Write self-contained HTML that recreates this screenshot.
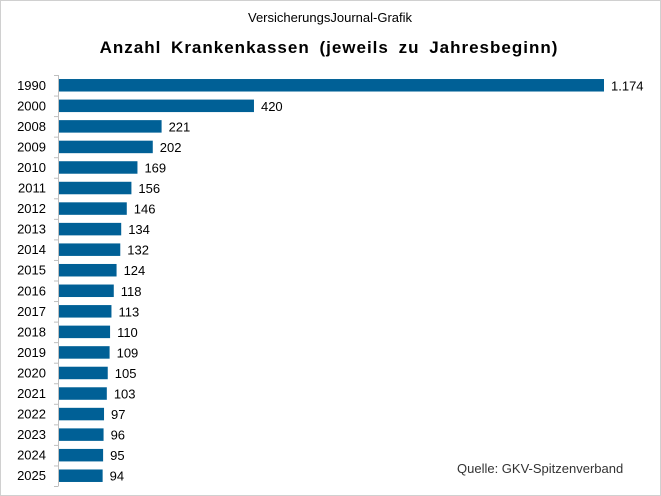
<!DOCTYPE html>
<html><head><meta charset="utf-8"><style>
body{margin:0;background:#fff}
svg{display:block;font-family:"Liberation Sans",Arial,sans-serif}
</style></head><body>
<svg id="chart" width="661" height="496">
<rect x="0.5" y="0.5" width="660" height="495" fill="#fff" stroke="#d0d0d0"/>
<text x="330" y="22" text-anchor="middle" font-size="13" fill="#000">VersicherungsJournal-Grafik</text>
<text x="329" y="53" text-anchor="middle" font-size="17" font-weight="bold" fill="#000" letter-spacing="1" word-spacing="4">Anzahl Krankenkassen (jeweils zu Jahresbeginn)</text>
<text x="457" y="473" font-size="13" fill="#333">Quelle:  GKV-Spitzenverband</text>
<g id="plot"></g>
</svg>
<script>
const categories=["1990","2000","2008","2009","2010","2011","2012","2013","2014","2015","2016","2017","2018","2019","2020","2021","2022","2023","2024","2025"];
const values=[1174,420,221,202,169,156,146,134,132,124,118,113,110,109,105,103,97,96,95,94];
const labels=["1.174","420","221","202","169","156","146","134","132","124","118","113","110","109","105","103","97","96","95","94"];
const NS="http://www.w3.org/2000/svg";
const g=document.getElementById('plot');
const x0=59,xs=v=>x0+v*(545/1174);
const top0=75,pitch=20.55,bh=12.5;
const yb=i=>top0+i*pitch;
function mk(t,a){const e=document.createElementNS(NS,t);for(const k in a)e.setAttribute(k,a[k]);g.appendChild(e);return e;}
const ax=mk('line',{x1:58.5,x2:58.5,y1:top0,y2:yb(categories.length),stroke:'#bfbfbf'});


for(let i=0;i<=categories.length;i++){const tk=mk('line',{x1:54,x2:58.5,y1:yb(i)+0.5,y2:yb(i)+0.5,stroke:'#bfbfbf'});

}
categories.forEach((c,i)=>{
 const cy=yb(i)+pitch/2;
 const b=mk('rect',{x:x0,y:cy-bh/2,width:xs(values[i])-x0,height:bh,fill:'#006096'});
 
 
 const t=mk('text',{x:46,y:cy+4.5,'text-anchor':'end','font-size':13,fill:'#000'});t.textContent=c;
 
 
 const v=mk('text',{x:xs(values[i])+7,y:cy+5,'font-size':13,fill:'#000'});v.textContent=labels[i];
 
 
});
</script>
</body></html>
